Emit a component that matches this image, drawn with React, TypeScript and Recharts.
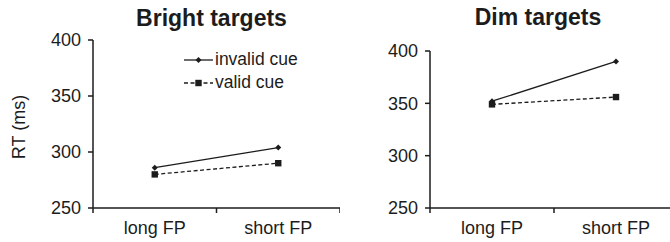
import { Line, LineChart, XAxis, YAxis } from "recharts";

const categories = ["long FP", "short FP"];
const seriesNames = ["invalid cue", "valid cue"];
const brightInvalid = [286, 304];
const brightValid = [280, 290];
const dimInvalid = [352, 390];
const dimValid = [349, 356];
const yTicks = [250, 300, 350, 400];

const INK = "#1c1c1c";
const FONT = "'Liberation Sans', Arial, sans-serif";

const xTicks = Array.from({ length: categories.length * 2 + 1 }, (_, k) => k / 2);

function buildRows(invalid: number[], valid: number[]) {
  return categories.map((label, i) => ({
    pos: i + 0.5,
    label,
    invalid: invalid[i],
    valid: valid[i]
  }));
}

function Diamond({ cx, cy }: any) {
  if (cx == null || cy == null) return null;
  return <path d={`M${cx},${cy - 3}L${cx + 3},${cy}L${cx},${cy + 3}L${cx - 3},${cy}Z`} fill={INK} />;
}

function Square({ cx, cy }: any) {
  if (cx == null || cy == null) return null;
  return <rect x={cx - 3.2} y={cy - 3.2} width={6.4} height={6.4} fill={INK} />;
}

function CategoryTick({ x, y, payload }: any) {
  const v = payload.value as number;
  if (Number.isInteger(v)) {
    return <line x1={x} x2={x} y1={y - 5} y2={y} stroke={INK} strokeWidth={1.5} />;
  }
  return (
    <text x={x} y={y + 21} textAnchor="middle" fill={INK} fontSize={18} fontFamily={FONT}>
      {categories[Math.floor(v)]}
    </text>
  );
}

// legend drawn outside the chart so it does not eat into the plot area
function CueLegend() {
  return (
    <div style={{ position: "absolute", left: 184, top: 48, fontSize: 17.5, color: INK }}>
      {seriesNames.map((name, i) => (
        <div key={name} style={{ display: "flex", alignItems: "center", height: 23 }}>
          <svg width={30} height={12} style={{ marginRight: 1 }}>
            <line
              x1={0}
              x2={29}
              y1={6}
              y2={6}
              stroke={INK}
              strokeWidth={1.3}
              strokeDasharray={i === 1 ? "4 2.5" : undefined}
            />
            {i === 0 ? <Diamond cx={14.5} cy={6} /> : <Square cx={14.5} cy={6} />}
          </svg>
          <span>{name}</span>
        </div>
      ))}
    </div>
  );
}

function Panel({
  invalid,
  valid,
  top,
  left,
  right,
  yLabel
}: {
  invalid: number[];
  valid: number[];
  top: number;
  left: number;
  right: number;
  yLabel?: string;
}) {
  const rows = buildRows(invalid, valid);
  return (
    <LineChart width={340} height={242} data={rows} margin={{ top, right, bottom: 0, left }}>
      <XAxis
        type="number"
        dataKey="pos"
        domain={[0, categories.length]}
        ticks={xTicks}
        interval={0}
        height={34}
        tickSize={5}
        tickMargin={0}
        tickLine={false}
        tick={<CategoryTick />}
        axisLine={{ stroke: INK, strokeWidth: 1.5 }}
      />
      <YAxis
        domain={[250, 400]}
        ticks={yTicks}
        width={50}
        tickSize={5}
        tickMargin={7}
        axisLine={{ stroke: INK, strokeWidth: 1.5 }}
        tickLine={{ stroke: INK, strokeWidth: 1.5 }}
        tick={{ fill: INK, fontSize: 18, fontFamily: FONT }}
        label={
          yLabel
            ? {
                content: ({ viewBox }: any) => {
                  const cx = viewBox.x - 24;
                  const cy = viewBox.y + viewBox.height / 2 + 3;
                  return (
                    <text
                      x={cx}
                      y={cy}
                      transform={`rotate(-90, ${cx}, ${cy})`}
                      textAnchor="middle"
                      dominantBaseline="central"
                      fill={INK}
                      fontSize={18}
                      fontFamily={FONT}
                    >
                      {yLabel}
                    </text>
                  );
                }
              }
            : undefined
        }
      />
      <Line
        dataKey="invalid"
        name={seriesNames[0]}
        stroke={INK}
        strokeWidth={1.3}
        dot={<Diamond />}
        activeDot={false}
        isAnimationActive={false}
      />
      <Line
        dataKey="valid"
        name={seriesNames[1]}
        stroke={INK}
        strokeWidth={1.3}
        strokeDasharray="4 2.5"
        dot={<Square />}
        activeDot={false}
        isAnimationActive={false}
      />
    </LineChart>
  );
}

export default function App() {
  return (
    <div
      style={{
        position: "absolute",
        left: 0,
        top: 0,
        width: 670,
        height: 242,
        overflow: "hidden",
        background: "#fff",
        fontFamily: FONT
      }}
    >
      <div
        style={{
          position: "absolute",
          left: 0,
          top: 7,
          width: 423,
          textAlign: "center",
          fontSize: 23,
          fontWeight: "bold",
          lineHeight: 1,
          color: INK
        }}
      >
        Bright targets
      </div>
      <div
        style={{
          position: "absolute",
          left: 388,
          top: 6,
          width: 300,
          textAlign: "center",
          fontSize: 23,
          fontWeight: "bold",
          lineHeight: 1,
          color: INK
        }}
      >
        Dim targets
      </div>
      <div style={{ position: "absolute", left: 0, top: 0 }}>
        <Panel invalid={brightInvalid} valid={brightValid} top={40} left={43} right={0} yLabel="RT (ms)" />
      </div>
      <div style={{ position: "absolute", left: 340, top: 0 }}>
        <Panel invalid={dimInvalid} valid={dimValid} top={51} left={40} right={2} />
      </div>
      <CueLegend />
    </div>
  );
}
